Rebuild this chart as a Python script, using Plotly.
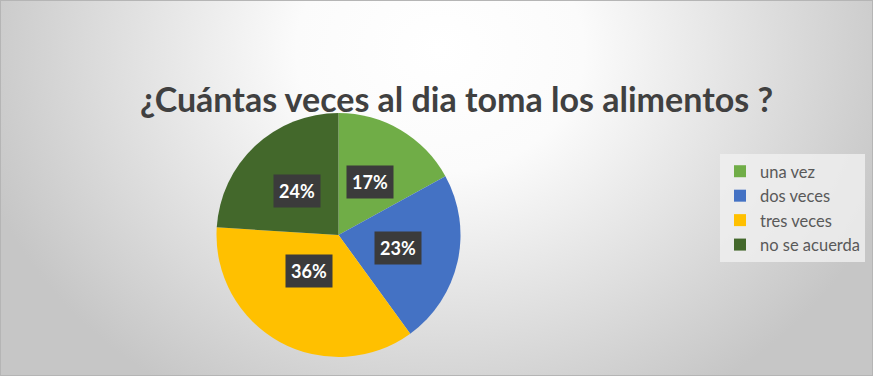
import math, base64
import plotly.graph_objects as go

labels = ["una vez", "dos veces", "tres veces", "no se acuerda"]
values = [17, 23, 36, 24]
colors = ["#70AD47", "#4472C4", "#FFC000", "#43682B"]
title_text = "¿Cuántas veces al dia toma los alimentos ?"

W, H = 873, 376
dom_x = [0.248, 0.5275]
dom_y = [0.0505, 0.6995]

svg = f'''<svg xmlns="http://www.w3.org/2000/svg" width="{W}" height="{H}" preserveAspectRatio="none">
<defs><radialGradient id="g" cx="440" cy="50" r="480" gradientUnits="userSpaceOnUse" gradientTransform="translate(440 50) scale(1 0.85) translate(-440 -50)">
<stop offset="0" stop-color="#ffffff"/><stop offset="0.3" stop-color="#fbfbfb"/><stop offset="1" stop-color="#c6c6c6"/></radialGradient></defs>
<rect width="{W}" height="{H}" fill="url(#g)"/></svg>'''
src = "data:image/svg+xml;base64," + base64.b64encode(svg.encode()).decode()

fig = go.Figure(go.Pie(
    labels=labels, values=values, sort=False, direction="clockwise", rotation=0,
    marker=dict(colors=colors, line=dict(width=0)),
    textinfo="none", hoverinfo="label+percent",
    domain=dict(x=dom_x, y=dom_y),
))

# label annotations at half radius on each slice's mid-angle
cx = (dom_x[0] + dom_x[1]) / 2 * W
cy = (dom_y[0] + dom_y[1]) / 2 * H
R = min((dom_x[1] - dom_x[0]) * W, (dom_y[1] - dom_y[0]) * H) / 2
total = sum(values)
cum = 0
annotations = []
for v in values:
    mid = (cum + v / 2) / total * 2 * math.pi
    cum += v
    px = cx + 0.5 * R * math.sin(mid)
    py = cy + 0.5 * R * math.cos(mid)
    pct = f"{round(v / total * 100)}%"
    annotations.append(dict(x=px / W, y=py / H, xref="paper", yref="paper",
                            text=f"<b>{pct}</b>", showarrow=False,
                            font=dict(size=18, color="white", family="Lato"),
                            bgcolor="#3B3B3B", borderpad=5))

fig.update_layout(
    width=W, height=H,
    margin=dict(l=0, r=0, t=0, b=0),
    paper_bgcolor="#d9d9d9",
    title=dict(text=f"<b>{title_text}</b>", x=0.523, xanchor="center", y=1 - 100 / H, yanchor="middle",
               font=dict(size=34, color="#404040", family="Lato")),
    showlegend=True,
    legend=dict(x=720 / W, y=1 - 154 / H, xanchor="left", yanchor="top",
                bgcolor="rgba(240,240,240,0.8)", borderwidth=0,
                font=dict(size=16.5, color="#595959", family="Lato"),
                itemclick=False),
    images=[dict(source=src, xref="paper", yref="paper", x=0, y=1, sizex=1, sizey=1,
                 sizing="stretch", layer="below", xanchor="left", yanchor="top")],
    annotations=annotations,
    shapes=[dict(type="rect", xref="paper", yref="paper", x0=0, y0=0, x1=1, y1=1,
                 line=dict(color="#b5b5b5", width=2))],
)

fig.write_html("out.html")
